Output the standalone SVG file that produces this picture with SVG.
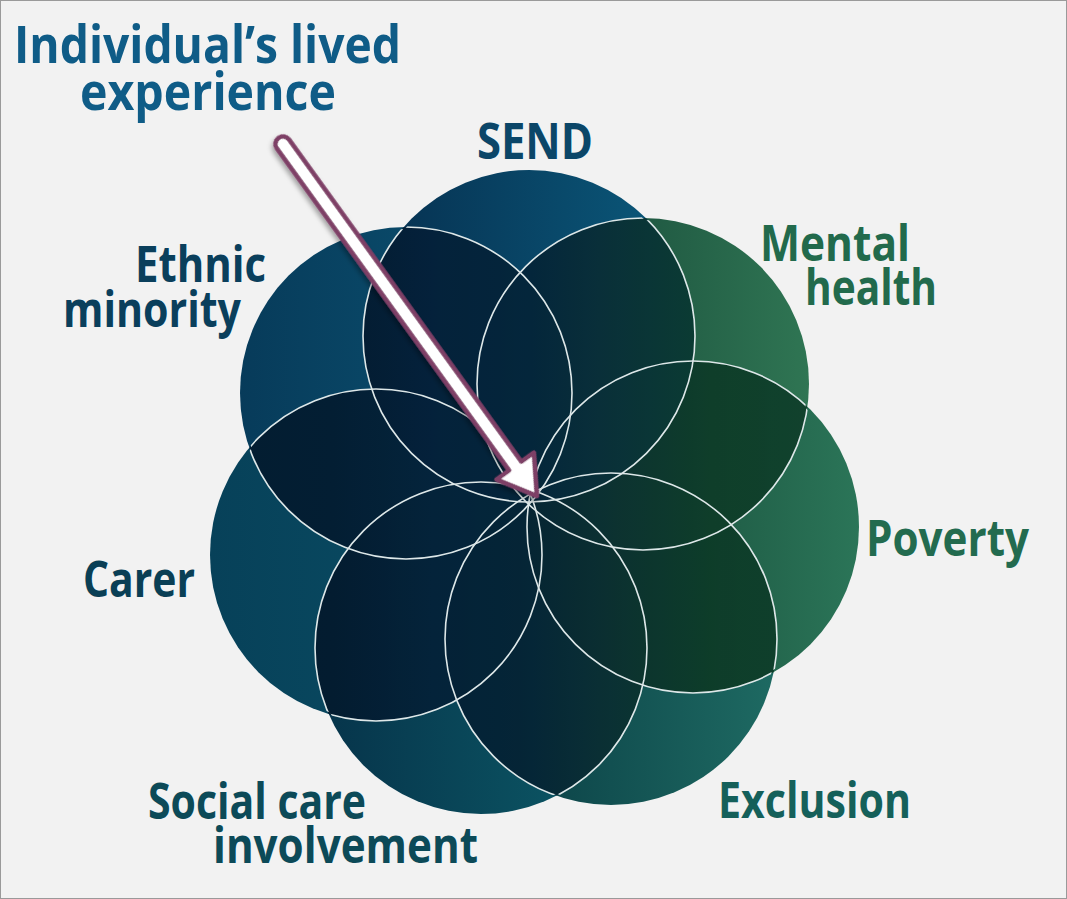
<svg xmlns="http://www.w3.org/2000/svg" xmlns:xlink="http://www.w3.org/1999/xlink" width="1067" height="899" viewBox="0 0 1067 899">
<style>
.lbl{font-family:"Open Sans","Noto Sans","Liberation Sans",sans-serif;font-weight:700;font-size:50px;}
.ttl{font-family:"Open Sans","Noto Sans","Liberation Sans",sans-serif;font-weight:700;font-size:52px;fill:#0f5c87;}
.edge{fill:none;stroke:#dde7e8;stroke-width:1.6;}
</style>
<defs>
<circle id="c-send" cx="529" cy="336" r="166"/>
<circle id="c-mental" cx="643" cy="384" r="166"/>
<circle id="c-poverty" cx="693" cy="527" r="166"/>
<circle id="c-exclusion" cx="611" cy="639" r="166"/>
<circle id="c-social" cx="481" cy="648" r="166"/>
<circle id="c-carer" cx="376" cy="555" r="166"/>
<circle id="c-ethnic" cx="406" cy="393" r="166"/>
<linearGradient id="g-send" x1="0" y1="0" x2="1" y2="0"><stop offset="0" stop-color="#062f4f"/><stop offset="1" stop-color="#0b5b7d"/></linearGradient>
<linearGradient id="g-mental" x1="0" y1="0" x2="1" y2="0"><stop offset="0" stop-color="#123f33"/><stop offset="1" stop-color="#2f7553"/></linearGradient>
<linearGradient id="g-poverty" x1="0" y1="0" x2="1" y2="0"><stop offset="0" stop-color="#113f30"/><stop offset="1" stop-color="#2b7558"/></linearGradient>
<linearGradient id="g-exclusion" x1="0" y1="0" x2="1" y2="0"><stop offset="0" stop-color="#063640"/><stop offset="1" stop-color="#1e6a62"/></linearGradient>
<linearGradient id="g-social" x1="0" y1="0" x2="1" y2="0"><stop offset="0" stop-color="#06334a"/><stop offset="1" stop-color="#0d5e6a"/></linearGradient>
<linearGradient id="g-carer" x1="0" y1="0" x2="1" y2="0"><stop offset="0" stop-color="#074159"/><stop offset="1" stop-color="#0a4f66"/></linearGradient>
<linearGradient id="g-ethnic" x1="0" y1="0" x2="1" y2="0"><stop offset="0" stop-color="#073b5a"/><stop offset="1" stop-color="#0c5676"/></linearGradient>
<linearGradient id="g-over" gradientUnits="userSpaceOnUse" x1="240" y1="0" x2="860" y2="0">
<stop offset="0" stop-color="#03172a"/><stop offset="0.15" stop-color="#03182c"/><stop offset="0.31" stop-color="#041e36"/><stop offset="0.47" stop-color="#042134"/><stop offset="0.58" stop-color="#092a30"/><stop offset="0.76" stop-color="#0b3825"/><stop offset="1" stop-color="#0d3a28"/>
</linearGradient>
<clipPath id="k-send"><use xlink:href="#c-send"/></clipPath>
<clipPath id="k-mental"><use xlink:href="#c-mental"/></clipPath>
<clipPath id="k-poverty"><use xlink:href="#c-poverty"/></clipPath>
<clipPath id="k-exclusion"><use xlink:href="#c-exclusion"/></clipPath>
<clipPath id="k-social"><use xlink:href="#c-social"/></clipPath>
<clipPath id="k-carer"><use xlink:href="#c-carer"/></clipPath>
<clipPath id="k-inner">
<circle cx="529" cy="336" r="164"/><circle cx="643" cy="384" r="164"/><circle cx="693" cy="527" r="164"/><circle cx="611" cy="639" r="164"/><circle cx="481" cy="648" r="164"/><circle cx="376" cy="555" r="164"/><circle cx="406" cy="393" r="164"/>
</clipPath>
<filter id="shadow" x="-20%" y="-20%" width="140%" height="140%"><feDropShadow dx="2" dy="3" stdDeviation="2.5" flood-color="#000" flood-opacity="0.35"/></filter>
</defs>
<rect x="0.5" y="0.5" width="1066" height="898" fill="#f2f2f2" stroke="#9a9a9a" stroke-width="1"/>

<g id="node-ethnic"><use xlink:href="#c-ethnic" fill="url(#g-ethnic)"/></g>
<g id="node-carer"><use xlink:href="#c-carer" fill="url(#g-carer)"/></g>
<g id="node-social"><use xlink:href="#c-social" fill="url(#g-social)"/></g>
<g id="node-exclusion"><use xlink:href="#c-exclusion" fill="url(#g-exclusion)"/></g>
<g id="node-poverty"><use xlink:href="#c-poverty" fill="url(#g-poverty)"/></g>
<g id="node-mental"><use xlink:href="#c-mental" fill="url(#g-mental)"/></g>
<g id="node-send"><use xlink:href="#c-send" fill="url(#g-send)"/></g>

<g id="overlaps" fill="url(#g-over)" opacity="0.85">
<g clip-path="url(#k-send)"><use xlink:href="#c-mental"/><use xlink:href="#c-poverty"/><use xlink:href="#c-exclusion"/><use xlink:href="#c-social"/><use xlink:href="#c-carer"/><use xlink:href="#c-ethnic"/></g>
<g clip-path="url(#k-mental)"><use xlink:href="#c-poverty"/><use xlink:href="#c-exclusion"/><use xlink:href="#c-social"/><use xlink:href="#c-carer"/><use xlink:href="#c-ethnic"/></g>
<g clip-path="url(#k-poverty)"><use xlink:href="#c-exclusion"/><use xlink:href="#c-social"/><use xlink:href="#c-carer"/><use xlink:href="#c-ethnic"/></g>
<g clip-path="url(#k-exclusion)"><use xlink:href="#c-social"/><use xlink:href="#c-carer"/><use xlink:href="#c-ethnic"/></g>
<g clip-path="url(#k-social)"><use xlink:href="#c-carer"/><use xlink:href="#c-ethnic"/></g>
<g clip-path="url(#k-carer)"><use xlink:href="#c-ethnic"/></g>
</g>

<g id="edges" clip-path="url(#k-inner)">
<use xlink:href="#c-send" class="edge"/><use xlink:href="#c-mental" class="edge"/><use xlink:href="#c-poverty" class="edge"/><use xlink:href="#c-exclusion" class="edge"/><use xlink:href="#c-social" class="edge"/><use xlink:href="#c-carer" class="edge"/><use xlink:href="#c-ethnic" class="edge"/>
</g>

<g id="connectors">
<g id="arrow" transform="translate(283,144) rotate(54.2)" filter="url(#shadow)">
<path d="M0,-7.5 H397 V-23 L434,0 L397,23 V7.5 H0 A7.5,7.5 0 0 1 0,-7.5 Z" fill="#ffffff" stroke="#7e3f66" stroke-width="4.5" stroke-linejoin="round"/>
</g>
</g>

<g id="title">
<text class="ttl" x="14" y="63" textLength="387" lengthAdjust="spacingAndGlyphs">Individual’s lived</text>
<text class="ttl" x="80" y="110" textLength="256" lengthAdjust="spacingAndGlyphs">experience</text>
</g>
<g id="label-send"><text class="lbl" x="477" y="159" textLength="116" lengthAdjust="spacingAndGlyphs" fill="#0b4668">SEND</text></g>
<g id="label-mental"><text class="lbl" x="760" y="261" textLength="150" lengthAdjust="spacingAndGlyphs" fill="#226a4c">Mental</text><text class="lbl" x="805" y="305" textLength="132" lengthAdjust="spacingAndGlyphs" fill="#226a4c">health</text></g>
<g id="label-ethnic"><text class="lbl" x="135" y="282" textLength="131" lengthAdjust="spacingAndGlyphs" fill="#0a3f5c">Ethnic</text><text class="lbl" x="63" y="327" textLength="178" lengthAdjust="spacingAndGlyphs" fill="#0a3f5c">minority</text></g>
<g id="label-poverty"><text class="lbl" x="866" y="556" textLength="163" lengthAdjust="spacingAndGlyphs" fill="#236b4f">Poverty</text></g>
<g id="label-carer"><text class="lbl" x="83" y="597" textLength="112" lengthAdjust="spacingAndGlyphs" fill="#0a3f55">Carer</text></g>
<g id="label-exclusion"><text class="lbl" x="718" y="818" textLength="193" lengthAdjust="spacingAndGlyphs" fill="#15605a">Exclusion</text></g>
<g id="label-social"><text class="lbl" x="148" y="819" textLength="218" lengthAdjust="spacingAndGlyphs" fill="#0c4a58">Social care</text><text class="lbl" x="213" y="863" textLength="265" lengthAdjust="spacingAndGlyphs" fill="#0c4a58">involvement</text></g>
</svg>
